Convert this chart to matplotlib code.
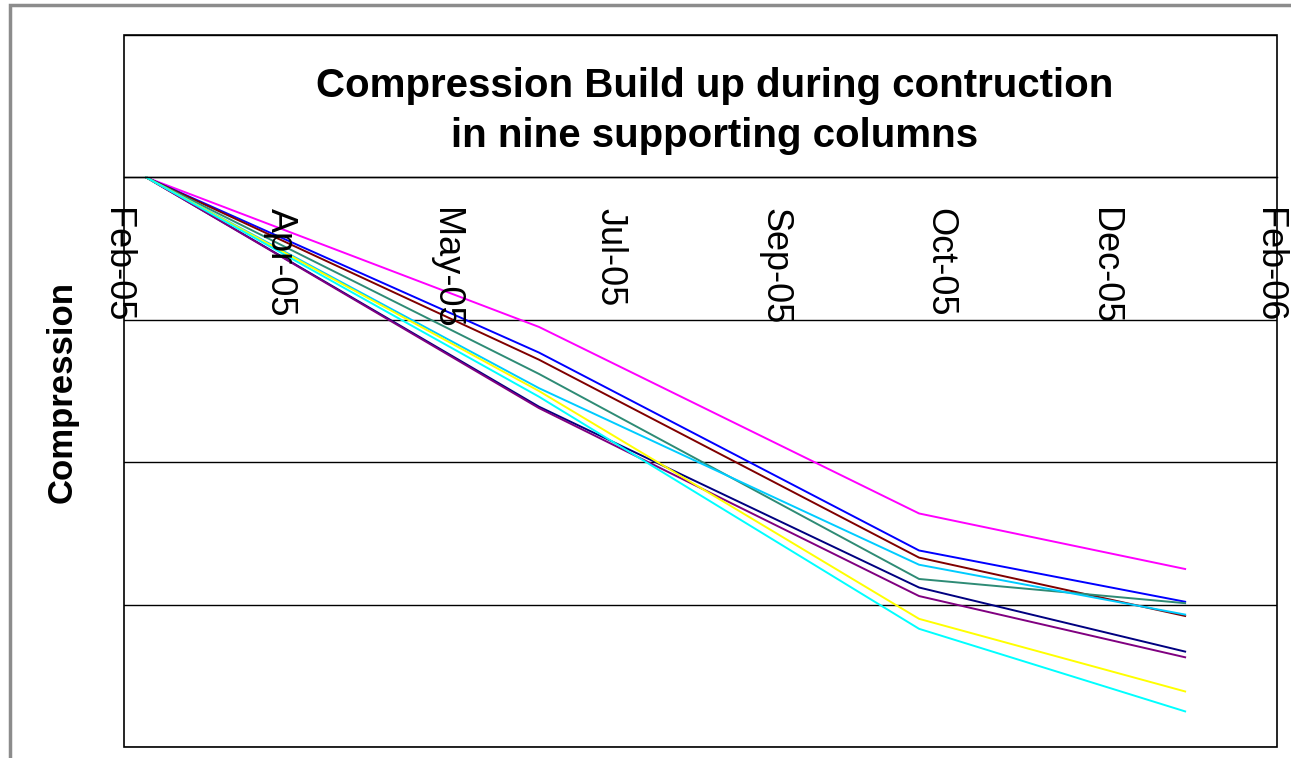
import numpy as np
import matplotlib
matplotlib.use('Agg')
import matplotlib.pyplot as plt
import matplotlib.transforms as mtransforms
from matplotlib.patches import Rectangle

plt.rcParams['font.family'] = ['Liberation Sans', 'DejaVu Sans']

# survey dates and compression readings for the nine columns
dates = np.array(['2005-02-19', '2005-06-23', '2005-10-21', '2006-01-13'], dtype='datetime64[D]')
magenta = [0, -105, -236, -275]
blue = [0, -123, -262, -298]
brown = [0, -128, -267, -308]
teal = [0, -138, -282, -299]
skyblue = [0, -148, -272, -307]
navy = [0, -161, -288, -333]
purple = [0, -162, -294, -337]
yellow = [0, -150, -310, -361]
cyan = [0, -154, -317, -375]

series = [
    (magenta, '#FF00FF'),
    (blue, '#0000FF'),
    (brown, '#800000'),
    (teal, '#2E8B75'),
    (skyblue, '#00CCFF'),
    (navy, '#000080'),
    (purple, '#800080'),
    (yellow, '#FFFF00'),
    (cyan, '#00FFFF'),
]

# axis: starts 12 Feb 2005, a tick every 52 days
axis_start = np.datetime64('2005-02-12')
tick_dates = axis_start + np.arange(8) * np.timedelta64(52, 'D')
tick_labels = [d.strftime('%b-%y') for d in tick_dates.astype(object)]
y_grid = [-400, -300, -200, -100, 0, 100]

fig = plt.figure(figsize=(12.91, 7.58), dpi=100)
fig.patches.append(Rectangle((10 / 1291, -0.1), 1.2, 0.1 + 1 - 5 / 758,
                             transform=fig.transFigure, fill=False,
                             edgecolor='#8c8c8c', lw=2.5))

ax = fig.add_axes([124 / 1291, 1 - 747 / 758, 1153 / 1291, 712 / 758])
for vals, col in series:
    ax.plot(dates, vals, color=col, lw=1.4)

ax.set_xlim(tick_dates[0], tick_dates[-1])
ax.set_ylim(-400, 100)
ax.set_xticks(tick_dates)
ax.set_xticklabels([])
ax.tick_params(axis='x', length=0)

# date labels hang below the zero line, reading downwards
offset = mtransforms.ScaledTranslation(-8 / 100, -31 / 100, fig.dpi_scale_trans)
for d, lab in zip(tick_dates, tick_labels):
    ax.text(d, 0, lab, transform=ax.transData + offset, rotation=270,
            ha='center', va='top', fontsize=26, clip_on=False)

ax.set_yticks(y_grid)
ax.set_yticklabels([])
ax.tick_params(axis='y', length=0)
ax.yaxis.grid(True, color='black', lw=1)

for s in ['top', 'right', 'left']:
    ax.spines[s].set_visible(False)
ax.spines['bottom'].set_position(('data', 0))
ax.spines['bottom'].set_linewidth(1)
ax.add_patch(Rectangle((0, 0), 1, 1, transform=ax.transAxes, fill=False,
                       edgecolor='black', lw=1.2, clip_on=False, zorder=5))

fig.text(715 / 1291, 1 - 111 / 758,
         'Compression Build up during contruction\nin nine supporting columns',
         ha='center', va='center', fontsize=29, fontweight='bold', linespacing=1.42)
fig.text(62 / 1291, 1 - 392 / 758, 'Compression', rotation=90,
         ha='center', va='center', fontsize=25, fontweight='bold')

fig.savefig('out.png', dpi=100)
